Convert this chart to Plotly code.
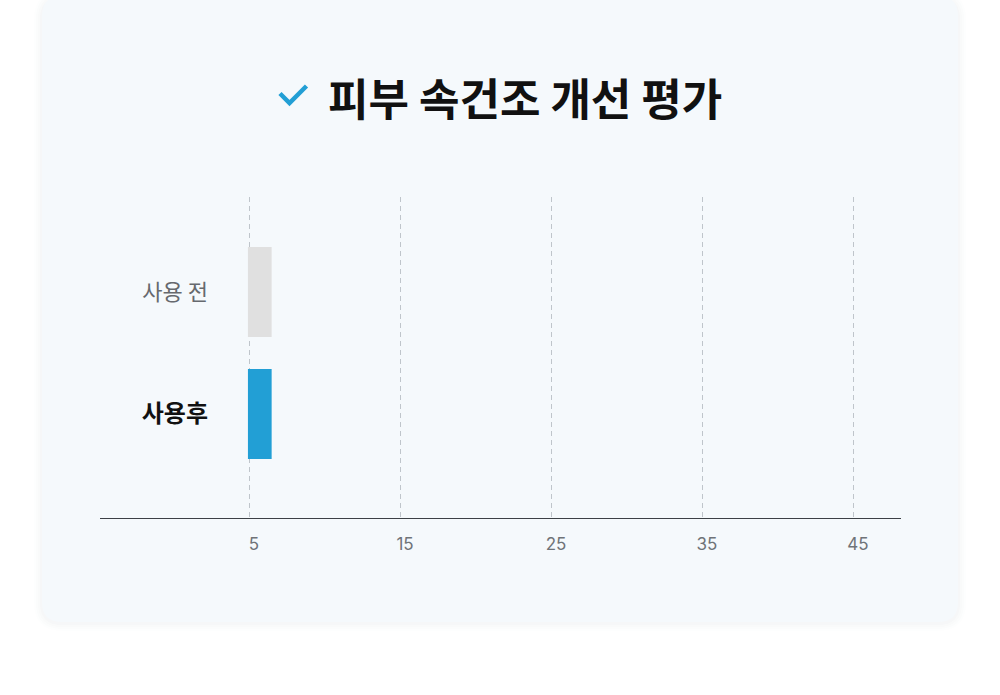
import plotly.graph_objects as go

# ---- data ----
categories = ["사용 전", "사용후"]
values = [6.5, 6.5]
bar_colors = ["#e0e0e0", "#229fd5"]
tick_vals = [5, 15, 25, 35, 45]
tick_text = ["5", "15", "25", "35", "45"]
title_text = "피부 속건조 개선 평가"
bar_start = 4.93

W, H = 1000, 695
L, R, T, B = 246, 901, 197, 518  # plot area in pixels
PX_PER_UNIT = 15.1
X5 = 249  # pixel of value 5


def px(x):
    return (x - L) / (R - L)


def py(y):
    return (B - y) / (B - T)


def rounded_rect(x0, y0, x1, y1, r):
    rx = r / (R - L)
    ry = r / (B - T)
    X0, X1 = px(x0), px(x1)
    Y0, Y1 = py(y0), py(y1)
    return (
        f"M {X0+rx},{Y0} L {X1-rx},{Y0} Q {X1},{Y0} {X1},{Y0-ry} "
        f"L {X1},{Y1+ry} Q {X1},{Y1} {X1-rx},{Y1} "
        f"L {X0+rx},{Y1} Q {X0},{Y1} {X0},{Y1+ry} "
        f"L {X0},{Y0-ry} Q {X0},{Y0} {X0+rx},{Y0} Z"
    )


shapes = []
for i, op in enumerate([0.008, 0.01, 0.012, 0.015]):
    g = 8 - 2 * i
    shapes.append(dict(type="path", xref="paper", yref="paper", layer="below",
                       path=rounded_rect(42 - g, -4 - g + 3, 958 + g, 622 + g + 1, 20 + g),
                       fillcolor=f"rgba(60,80,110,{op})", line=dict(width=0)))
shapes.append(dict(type="path", xref="paper", yref="paper", layer="below",
                   path=rounded_rect(42, -4, 958, 622, 20),
                   fillcolor="#f5f9fc", line=dict(width=0)))
# axis baseline extending left of plot area
shapes.append(dict(type="line", xref="paper", yref="paper", layer="above",
                   x0=px(100), x1=px(901), y0=py(518.5), y1=py(518.5),
                   line=dict(color="#3c4046", width=1)))
# check mark icon in the title
shapes.append(dict(type="path", xref="paper", yref="paper", layer="above",
                   path=f"M {px(280)},{py(93.5)} L {px(289.5)},{py(103)} L {px(306.5)},{py(86)}",
                   line=dict(color="#229fd5", width=4.5)))

ticktext_y = [
    f"<span style='color:#66696e'>{categories[0]}</span>",
    f"<span style='font-size:24px'><b>{categories[1]}</b></span>",
]

x_min = 5 - (X5 - L) / PX_PER_UNIT
x_max = 5 + (R - X5) / PX_PER_UNIT

fig = go.Figure()
fig.add_trace(go.Bar(
    y=categories, x=[v - bar_start for v in values], base=bar_start,
    orientation="h",
    marker=dict(color=bar_colors, line=dict(width=0)),
    width=90 / 122, hoverinfo="skip",
))

fig.update_layout(
    width=W, height=H,
    margin=dict(l=L, r=W - R, t=T, b=H - B, pad=0),
    paper_bgcolor="white", plot_bgcolor="rgba(0,0,0,0)",
    showlegend=False,
    shapes=shapes,
    font=dict(family="Noto Sans CJK KR, Inter, sans-serif"),
    xaxis=dict(
        range=[x_min, x_max],
        tickvals=tick_vals, ticktext=tick_text,
        showgrid=True, gridcolor="#bfc5cb", griddash="5px,4px", gridwidth=1,
        zeroline=False, showline=False, ticks="",
        tickfont=dict(family="Inter, sans-serif", size=17, color="#6f7378"),
        ticklabelstandoff=14, ticklabelshift=5,
    ),
    yaxis=dict(
        categoryorder="array", categoryarray=categories,
        range=[1 + 104 / 122, -95 / 122],
        tickvals=categories, ticktext=ticktext_y,
        showgrid=False, zeroline=False, showline=False, ticks="",
        tickfont=dict(family="Noto Sans CJK KR, sans-serif", size=22, color="#111111"),
        ticklabelstandoff=37,
    ),
    annotations=[dict(
        xref="paper", yref="paper", x=px(525), y=py(97),
        xanchor="center", yanchor="middle", showarrow=False,
        text=f"<b>{title_text}</b>",
        font=dict(family="Noto Sans CJK KR, sans-serif", size=44, color="#111111"),
    )],
)

fig.write_html("out.html")
